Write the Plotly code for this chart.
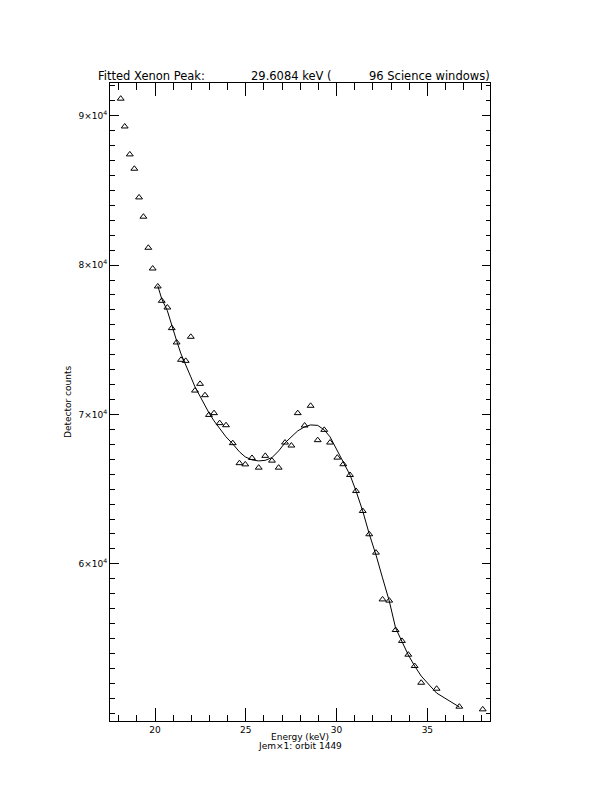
import plotly.graph_objects as go

# ---- data ----
energy_kev = [18.11, 18.33, 18.61, 18.86, 19.12, 19.36, 19.63, 19.87, 20.15, 20.37,
              20.68, 20.92, 21.19, 21.43, 21.69, 21.97, 22.20, 22.48, 22.75, 22.97,
              23.25, 23.56, 23.91, 24.28, 24.65, 24.97, 25.34, 25.71, 26.07, 26.44,
              26.81, 27.16, 27.51, 27.86, 28.24, 28.57, 28.96, 29.32, 29.64, 30.04,
              30.37, 30.74, 31.07, 31.44, 31.80, 32.17, 32.53, 32.90, 33.25, 33.60,
              33.95, 34.30, 34.66, 35.51, 36.76, 38.05]
counts = [91140, 89280, 87410, 86450, 84530, 83240, 81160, 79770, 78570, 77610,
          77160, 75780, 74820, 73660, 73590, 75200, 71600, 72050, 71290, 69970,
          70090, 69420, 69280, 68080, 66740, 66660, 67090, 66440, 67230, 66910,
          66440, 68120, 67920, 70090, 69260, 70580, 68280, 68970, 68120, 67110,
          66670, 65950, 64880, 63540, 61980, 60750, 57620, 57540, 55570, 54840,
          53920, 53160, 52040, 51640, 50440, 50260]

fit_kev = energy_kev[8:55]
fit_counts = [78610, 77740, 76940, 75930, 74930, 74060, 73260, 72520, 71850, 71180,
              70580, 70110, 69570, 69040, 68500, 68030, 67500, 67160, 66960, 66890,
              66930, 67110, 67560, 68100, 68500, 68900, 69170, 69300, 69270, 68970,
              68500, 67560, 66760, 65950, 64880, 63540, 62000, 60600, 59060, 57520,
              55710, 54840, 53900, 53160, 52490, 51350, 50420]

y_major_vals = [60000, 70000, 80000, 90000]
y_major_text = ["6×10<sup>4</sup>", "7×10<sup>4</sup>", "8×10<sup>4</sup>", "9×10<sup>4</sup>"]
y_minor_vals = list(range(50000, 93000, 1000))

title_left = "Fitted Xenon Peak:"
title_mid = "29.6084 keV ("
title_right = "96 Science windows)"
x_title = "Energy (keV)"
x_subtitle = "Jem×1: orbit 1449"
y_title = "Detector counts"

FONT = "DejaVu Sans"

fig = go.Figure()
fig.add_trace(go.Scatter(x=fit_kev, y=fit_counts, mode="lines",
                         line=dict(color="black", width=1), hoverinfo="skip"))
fig.add_trace(go.Scatter(x=energy_kev, y=counts, mode="markers",
                         marker=dict(symbol="triangle-up-open", size=6,
                                     color="black", line=dict(width=1, color="black"))))

# page body has an 8px margin, so margins are offset to land the plot box
# at the reference position
fig.update_layout(
    width=612, height=792,
    margin=dict(l=102, r=130, t=75, b=79),
    paper_bgcolor="white", plot_bgcolor="white",
    showlegend=False,
    font=dict(family=FONT, size=9, color="black"),
)

fig.update_xaxes(
    range=[17.52, 38.45], showgrid=False, zeroline=False,
    showline=True, linecolor="black", linewidth=1, mirror="ticks",
    ticks="inside", ticklen=13, tickwidth=1, tickcolor="black",
    tickmode="linear", tick0=0, dtick=5,
    tickfont=dict(family=FONT, size=9),
    minor=dict(ticks="inside", ticklen=6.5, tickwidth=1, tickcolor="black",
               tickmode="linear", tick0=0, dtick=1, showgrid=False),
)
fig.update_yaxes(
    range=[49480, 92190], showgrid=False, zeroline=False,
    showline=True, linecolor="black", linewidth=1, mirror="ticks",
    ticks="inside", ticklen=8.5, tickwidth=1, tickcolor="black",
    tickmode="array", tickvals=y_major_vals, ticktext=y_major_text,
    tickfont=dict(family=FONT, size=9),
    minor=dict(ticks="inside", ticklen=4.5, tickwidth=1, tickcolor="black",
               tickmode="array", tickvals=y_minor_vals, showgrid=False),
)

ann_font = dict(family=FONT, size=11.5, color="black")
small_font = dict(family=FONT, size=9, color="black")
fig.add_annotation(text=title_left, xref="paper", yref="paper", x=0, xshift=-14,
                   y=1, yshift=7, xanchor="left", yanchor="middle",
                   showarrow=False, font=ann_font)
fig.add_annotation(text=title_mid, xref="paper", yref="paper", x=0, xshift=139,
                   y=1, yshift=7, xanchor="left", yanchor="middle",
                   showarrow=False, font=ann_font)
fig.add_annotation(text=title_right, xref="paper", yref="paper", x=1, xshift=2,
                   y=1, yshift=7, xanchor="right", yanchor="middle",
                   showarrow=False, font=ann_font)
fig.add_annotation(text=x_title, xref="paper", yref="paper", x=0.5, y=0, yshift=-15.5,
                   xanchor="center", yanchor="middle", showarrow=False, font=small_font)
fig.add_annotation(text=x_subtitle, xref="paper", yref="paper", x=0.5, y=0, yshift=-25,
                   xanchor="center", yanchor="middle", showarrow=False, font=small_font)
fig.add_annotation(text=y_title, xref="paper", yref="paper", x=0, xshift=-42,
                   y=0.5, xanchor="center", yanchor="middle", textangle=-90,
                   showarrow=False, font=small_font)

fig.write_html("out.html")
